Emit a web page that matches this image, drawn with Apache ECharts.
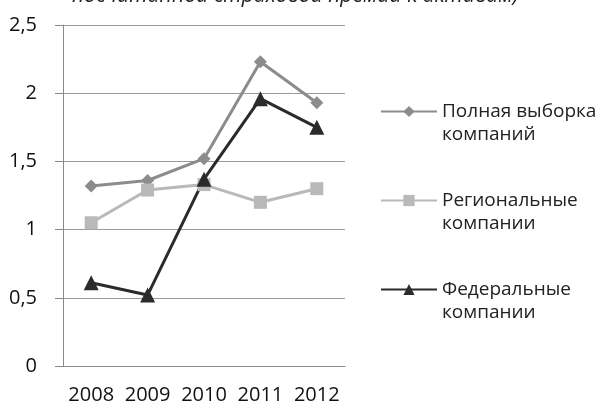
<!DOCTYPE html>
<html><head><meta charset="utf-8">
<script src="https://cdn.jsdelivr.net/npm/echarts@6/dist/echarts.min.js"></script>
<style>html,body{margin:0;padding:0;background:#fff}#c{width:595px;height:407px}</style>
</head><body><div id="c"></div>
<script>
var categories = ['2008', '2009', '2010', '2011', '2012'];
var fullSample = [1.32, 1.36, 1.52, 2.23, 1.93];
var regional = [1.05, 1.29, 1.33, 1.20, 1.30];
var federal = [0.61, 0.52, 1.37, 1.96, 1.75];
var seriesNames = ['Полная выборка\nкомпаний', 'Региональные\nкомпании', 'Федеральные\nкомпании'];
var yTicks = ['0', '0,5', '1', '1,5', '2', '2,5'];
var titleText = 'посчитанной страховой премии к активам)';

var font = 'Open Sans';
var chart = echarts.init(document.getElementById('c'), null, {renderer: 'canvas'});
function mk(name, data, color, symbol, size) {
  return {
    name: name, type: 'line', data: data, symbol: symbol, symbolSize: size,
    lineStyle: {color: color, width: 3}, itemStyle: {color: color},
    animation: false
  };
}
chart.setOption({
  backgroundColor: '#fff',
  title: {text: titleText, left: 67, top: -19,
    textStyle: {fontFamily: font, fontStyle: 'italic', fontSize: 21, fontWeight: 'normal', color: '#222'}},
  grid: {left: 63, right: 250, top: 25, bottom: 41},
  legend: {
    orient: 'vertical', left: 375, top: 72, itemWidth: 56, itemHeight: 14, itemGap: 20,
    textStyle: {fontFamily: font, fontSize: 19, color: '#222', lineHeight: 23},
    formatter: function (n) { return '\n' + n; },
    data: seriesNames
  },
  xAxis: {
    type: 'category', data: categories, boundaryGap: true,
    axisLine: {lineStyle: {color: '#8a8a8a', width: 1}},
    axisTick: {length: 7, lineStyle: {color: '#8a8a8a'}},
    axisLabel: {fontFamily: font, fontSize: 20, color: '#111', margin: 19, interval: 0, hideOverlap: false}
  },
  yAxis: {
    type: 'value', min: 0, max: 2.5, interval: 0.5,
    axisLine: {show: true, lineStyle: {color: '#8a8a8a'}},
    axisTick: {show: true, length: 8, lineStyle: {color: '#8a8a8a'}},
    splitLine: {lineStyle: {color: '#9a9a9a', width: 1}},
    axisLabel: {fontFamily: font, fontSize: 20, color: '#111', margin: 26,
      formatter: function (v) { return yTicks[Math.round(v / 0.5)]; }}
  },
  series: [
    mk(seriesNames[0], fullSample, '#8c8c8c', 'diamond', 13),
    mk(seriesNames[1], regional, '#b9b9b9', 'rect', 13),
    mk(seriesNames[2], federal, '#2b2b2b', 'triangle', 15)
  ]
});
</script></body></html>
